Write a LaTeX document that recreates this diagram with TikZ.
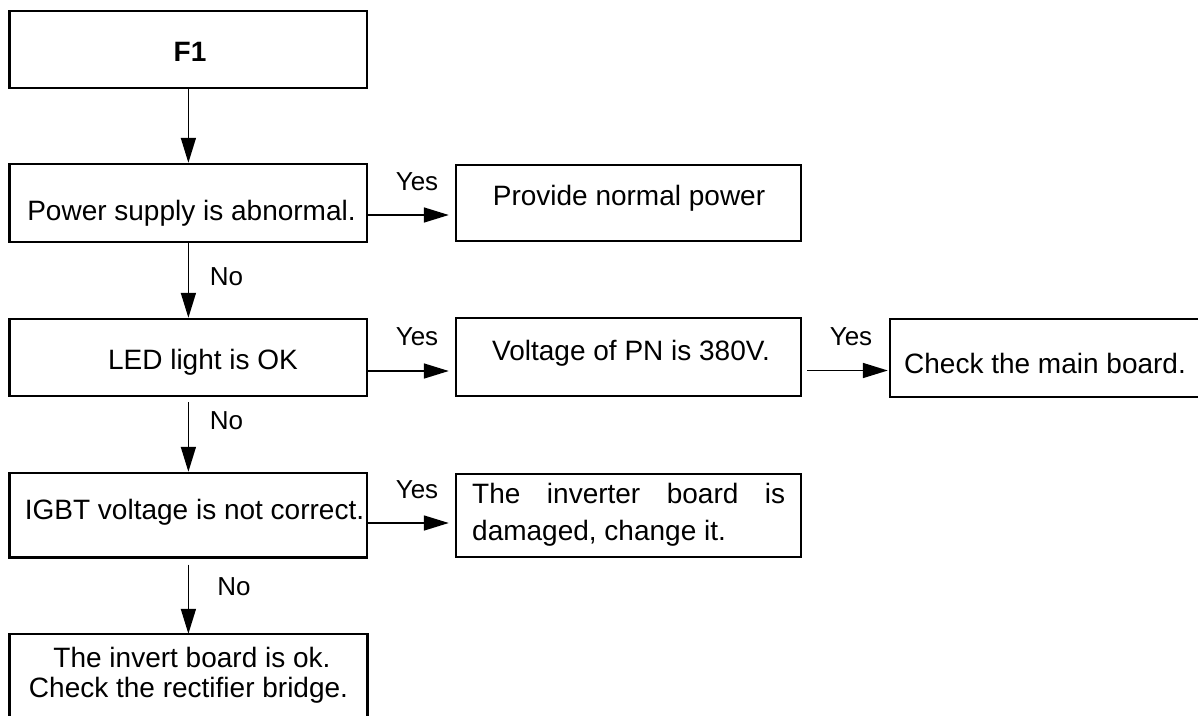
\documentclass[tikz,border=0pt]{standalone}
\usepackage{fontspec}
\setmainfont{Liberation Sans}
\usetikzlibrary{arrows.meta}
\begin{document}
\begin{tikzpicture}[x=1pt,y=-1pt,
  box/.style={draw,line width=2.4pt,inner sep=0pt,rectangle},
  openbox/.style={inner sep=0pt,rectangle},
  edge/.style={line width=2.4pt},
  arr/.style={line width=1.6pt,-{Triangle[length=25pt,width=15pt]}},
  txt/.style={font=\fontsize{28}{34}\selectfont,inner sep=0pt,anchor=base},
  lab/.style={font=\fontsize{26}{30}\selectfont,inner sep=0pt,anchor=base}]
\useasboundingbox (0,0) rectangle (1198,715);
\fill[white] (0,0) rectangle (1198,715);
% boxes
\node[box,minimum width=357.6pt,minimum height=77pt] (f1) at (188.4,49.5) {};
\node[box,minimum width=357.6pt,minimum height=78pt] (ps) at (188.4,203) {};
\node[box,minimum width=345pt,minimum height=76pt] (pnp) at (628.5,203) {};
\node[box,minimum width=357.6pt,minimum height=77pt] (led) at (188.4,357.5) {};
\node[box,minimum width=345pt,minimum height=78pt] (vpn) at (628.5,357) {};
\node[openbox,minimum width=400pt,minimum height=78pt] (chk) at (1090,358) {};
\draw[edge] (chk.north east) -- (chk.north west) -- (chk.south west) -- (chk.south east);
\node[box,minimum width=357.6pt,minimum height=84.5pt] (igbt) at (188.4,515.25) {};
\node[box,minimum width=345pt,minimum height=83pt] (inv) at (628.5,515.5) {};
\node[openbox,minimum width=357.6pt,minimum height=96pt] (last) at (188.4,682) {};
\draw[edge] (last.south west) -- (last.north west) -- (last.north east) -- (last.south east);
% texts
\node[txt,font=\fontsize{28}{34}\selectfont\bfseries] (tf1) at (190,61) {F1};
\node[txt] (tps) at (191.5,220) {Power supply is abnormal.};
\node[txt] (tpnp) at (629,205) {Provide normal power};
\node[txt] (tled) at (203,369) {LED light is OK};
\node[txt] (tvpn) at (631,360) {Voltage of PN is 380V.};
\node[txt] (tchk) at (1045,373) {Check the main board.};
\node[txt] (tigbt) at (194.5,519) {IGBT voltage is not correct.};
\node[txt,anchor=base west] (tinv1) at (472,503) {\makebox[313pt][l]{The\hfill inverter\hfill board\hfill is}};
\node[txt,anchor=base west] (tinv2) at (472,540) {damaged, change it.};
\node[txt] (tl1) at (192,667) {The invert board is ok.};
\node[txt] (tl2) at (188.5,697) {Check the rectifier bridge.};
% vertical arrows
\draw[arr] (f1.south) -- (ps.north);
\draw[arr] (ps.south) -- (led.north);
\draw[arr] ([yshift=-5pt]led.south) -- (igbt.north);
\draw[arr] ([yshift=-6pt]igbt.south) -- (last.north);
% horizontal arrows
\coordinate (h1) at ([yshift=-12pt]ps.east);
\draw[arr,shorten >=6pt] (h1) -- (h1 -| pnp.west);
\coordinate (h2) at ([yshift=-13.5pt]led.east);
\draw[arr,shorten >=6pt] (h2) -- (h2 -| vpn.west);
\coordinate (h3) at ([yshift=-13.5pt,xshift=5pt]vpn.east);
\draw[arr,shorten >=2pt] (h3) -- (h3 -| chk.west);
\coordinate (h4) at ([yshift=-7.75pt]igbt.east);
\draw[arr,shorten >=6pt] (h4) -- (h4 -| inv.west);
% labels
\node[lab] (y1) at (417,190) {Yes};
\node[lab] (y2) at (417,345) {Yes};
\node[lab] (y3) at (851,345) {Yes};
\node[lab] (y4) at (417,498) {Yes};
\node[lab] (n1) at (226.5,285) {No};
\node[lab] (n2) at (226.5,429) {No};
\node[lab] (n3) at (234,595) {No};
\end{tikzpicture}
\end{document}
